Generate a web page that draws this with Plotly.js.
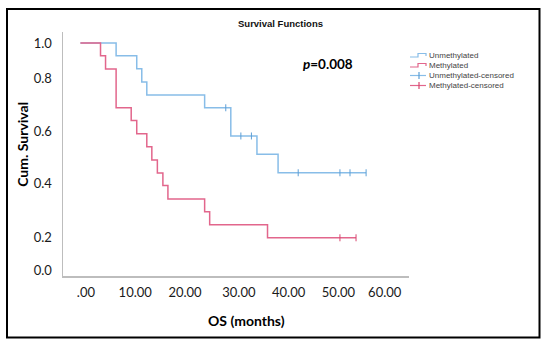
<!DOCTYPE html>
<html><head><meta charset="utf-8">
<script src="https://cdn.plot.ly/plotly-3.0.1.min.js"></script>
<style>html,body{margin:0;padding:0;background:#fff}#chart{width:550px;height:348px}</style>
</head><body><div id="chart"></div>
<script>
// ---- data ----
const unmethTime = [0, 7.1, 11.2, 12.2, 13.2, 24.7, 29.9, 35.1, 39.3, 56.8];
const unmethSurv = [1.0, 0.945, 0.890, 0.833, 0.777, 0.722, 0.601, 0.522, 0.443, 0.443];
const unmethCensTime = [28.9, 31.9, 34.0, 43.3, 51.6, 53.6, 56.8];
const unmethCensSurv = [0.722, 0.601, 0.601, 0.443, 0.443, 0.443, 0.443];
const methTime = [0, 4.0, 5.0, 7.1, 10.1, 11.2, 13.2, 14.2, 15.3, 16.4, 17.4, 24.7, 25.7, 37.2, 54.8];
const methSurv = [1.0, 0.945, 0.888, 0.722, 0.667, 0.611, 0.555, 0.498, 0.442, 0.388, 0.330, 0.276, 0.220, 0.164, 0.164];
const methCensTime = [51.6, 54.8];
const methCensSurv = [0.164, 0.164];
// tick labels as placed in the reference
const xTickVals = [1.1, 10.9, 20.8, 31.5, 41.4, 51.3, 60.5];
const xTickText = ['.00', '10.00', '20.00', '30.00', '40.00', '50.00', '60.00'];
const yTickVals = [0.024, 0.167, 0.397, 0.622, 0.848, 0.999];
const yTickText = ['0.0', '0.2', '0.4', '0.6', '0.8', '1.0'];
const seriesNames = ['Unmethylated', 'Methylated', 'Unmethylated-censored', 'Methylated-censored'];

// ---- styling / layout helpers ----
const BLUE = '#88bde8', BLUE_D = '#5d9fd6';
const RED = '#e2668c', RED_D = '#d9466f';
const W = 550, H = 348;
const M = {l: 63, r: 141, t: 32, b: 72};
const PW = W - M.l - M.r, PH = H - M.t - M.b;
const px = x => (x - M.l) / PW;
const py = y => (H - M.b - y) / PH;

const traces = [
  {x: unmethTime, y: unmethSurv, mode: 'lines', line: {shape: 'hv', color: BLUE, width: 1.5}, name: seriesNames[0], showlegend: false, hoverinfo: 'skip'},
  {x: methTime, y: methSurv, mode: 'lines', line: {shape: 'hv', color: RED, width: 1.5}, name: seriesNames[1], showlegend: false, hoverinfo: 'skip'},
  {x: unmethCensTime, y: unmethCensSurv, mode: 'markers', marker: {symbol: 'line-ns', size: 5, line: {color: BLUE_D, width: 1}}, name: seriesNames[2], showlegend: false},
  {x: methCensTime, y: methCensSurv, mode: 'markers', marker: {symbol: 'line-ns', size: 5, line: {color: RED_D, width: 1}}, name: seriesNames[3], showlegend: false}
];

// manual compact legend
const legRows = [55.5, 65.5, 75.5, 85.5];
const legX0 = 410, legX1 = 426, legTx = 427;
const shapes = [
  {type: 'rect', xref: 'paper', yref: 'paper', x0: px(7), x1: px(539.5), y0: py(337.5), y1: py(9), line: {color: '#000', width: 2}, layer: 'above'}
];
function stepPath(y) {
  const pts = [[legX0, y + 1.5], [418, y + 1.5], [418, y - 2], [legX1, y - 2], [legX1, y + 0.5]];
  return 'M' + pts.map(p => px(p[0]) + ',' + py(p[1])).join(' L');
}
shapes.push({type: 'path', xref: 'paper', yref: 'paper', path: stepPath(legRows[0]), line: {color: BLUE, width: 1.2}});
shapes.push({type: 'path', xref: 'paper', yref: 'paper', path: stepPath(legRows[1]), line: {color: RED, width: 1.2}});
[[legRows[2], BLUE, BLUE_D], [legRows[3], RED, RED_D]].forEach(([y, c, cd]) => {
  shapes.push({type: 'line', xref: 'paper', yref: 'paper', x0: px(legX0), x1: px(legX1), y0: py(y), y1: py(y), line: {color: c, width: 1.2}});
  shapes.push({type: 'line', xref: 'paper', yref: 'paper', x0: px(419), x1: px(419), y0: py(y - 3.5), y1: py(y + 3.5), line: {color: cd, width: 1.2}});
});

const annotations = [];
seriesNames.forEach((n, i) => annotations.push({
  xref: 'paper', yref: 'paper', x: px(legTx), y: py(legRows[i]), xanchor: 'left', yanchor: 'middle',
  text: n, showarrow: false, font: {family: 'Liberation Sans, Arial, sans-serif', size: 8, color: '#444'}
}));
annotations.push({xref: 'paper', yref: 'paper', x: px(280), y: py(23), xanchor: 'center', yanchor: 'middle', showarrow: false,
  text: '<b>Survival Functions</b>', font: {family: 'Liberation Sans, Arial, sans-serif', size: 9.5, color: '#111'}});
annotations.push({xref: 'paper', yref: 'paper', x: px(328), y: py(64), xanchor: 'center', yanchor: 'middle', showarrow: false,
  text: '<b><i>p</i>=0.008</b>', font: {family: 'Lato, sans-serif', size: 13.5, color: '#000'}});
annotations.push({xref: 'paper', yref: 'paper', x: px(21.8), y: py(144), xanchor: 'center', yanchor: 'middle', showarrow: false, textangle: -90,
  text: '<b>Cum. Survival</b>', font: {family: 'Lato, sans-serif', size: 14, color: '#000'}});
annotations.push({xref: 'paper', yref: 'paper', x: px(246), y: py(320), xanchor: 'center', yanchor: 'middle', showarrow: false,
  text: '<b>OS (months)</b>', font: {family: 'Lato, sans-serif', size: 14, color: '#000'}});

const layout = {
  width: W, height: H, margin: M,
  paper_bgcolor: '#fff', plot_bgcolor: '#fff', showlegend: false,
  xaxis: {range: [(M.l - 80.4) / 5.03, (W - M.r - 80.4) / 5.03], showgrid: false, zeroline: false, showline: true,
    linecolor: '#bdbdbd', linewidth: 1.5, ticks: 'outside', ticklen: 4, tickcolor: 'rgba(0,0,0,0)',
    tickvals: xTickVals, ticktext: xTickText, tickfont: {family: 'Lato, sans-serif', size: 13, color: '#1a1a1a'}, fixedrange: true},
  yaxis: {range: [0, (H - M.b - M.t) / 233], showgrid: false, zeroline: false, showline: true,
    linecolor: '#bdbdbd', linewidth: 1.5, ticks: 'outside', ticklen: 7, tickcolor: 'rgba(0,0,0,0)',
    tickvals: yTickVals, ticktext: yTickText, tickfont: {family: 'Lato, sans-serif', size: 13, color: '#1a1a1a'}, fixedrange: true},
  shapes: shapes, annotations: annotations
};
Plotly.newPlot('chart', traces, layout, {staticPlot: true, displayModeBar: false});
</script>
</body></html>
